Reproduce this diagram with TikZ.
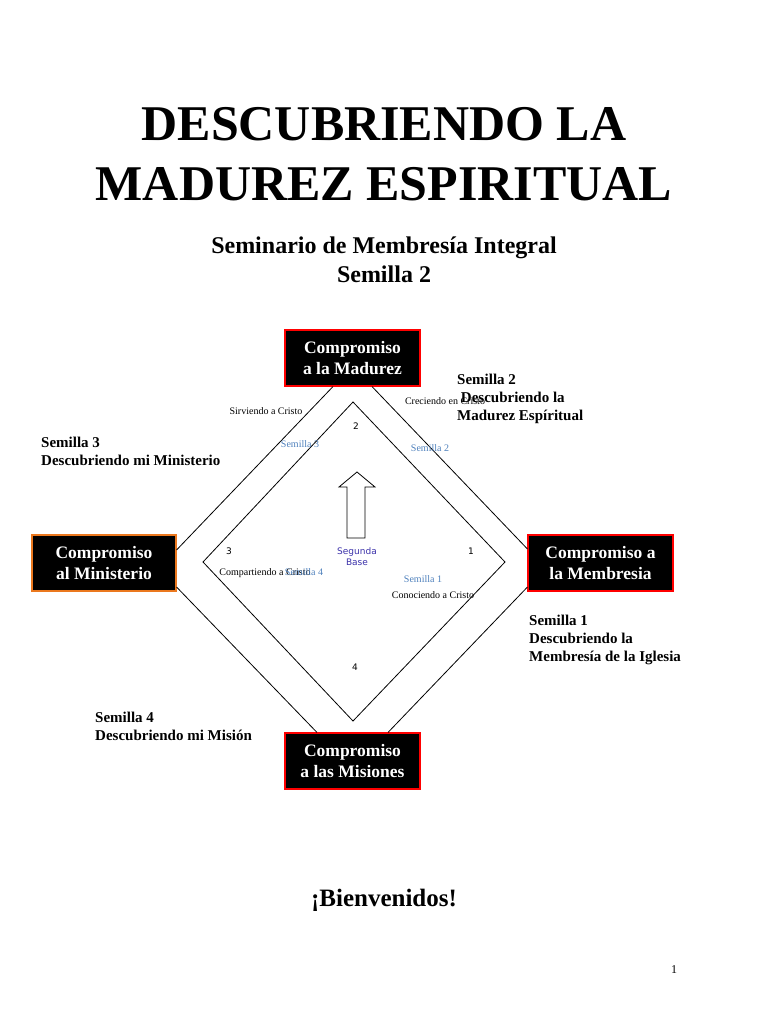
\documentclass[tikz,border=0pt]{standalone}
\usepackage{fontspec}
\setmainfont{Liberation Serif}
\newfontfamily\basefont{DejaVu Sans}
\usetikzlibrary{calc}
\definecolor{tagblue}{RGB}{79,129,189}
\definecolor{baseblue}{RGB}{60,50,170}
\definecolor{edgeorange}{RGB}{235,120,30}

\begin{document}
\begin{tikzpicture}[x=1pt, y=-1pt,
    box/.style={draw=red, line width=1.1pt, fill=black, text=white, align=center, font=\fontsize{17.5}{20.5}\selectfont\bfseries, minimum width=135, minimum height=56, inner sep=2pt},
    seed/.style={anchor=north west, align=left, inner sep=0pt, font=\fontsize{15}{18}\selectfont\bfseries},
    way/.style={inner sep=0pt, font=\fontsize{10}{12}\selectfont},
    tag/.style={inner sep=0pt, text=tagblue, font=\fontsize{10}{12}\selectfont},
    num/.style={inner sep=0pt, font=\basefont\fontsize{9}{11}\selectfont},
    line/.style={line width=0.8pt}
]
\fill[white] (0,0) rectangle (768,1024);
\useasboundingbox (0,0) rectangle (768,1024);

% titles
\node[anchor=base, inner sep=0pt, font=\fontsize{50}{60}\selectfont\bfseries] (title1) at (384,141) {DESCUBRIENDO LA};
\node[anchor=base, inner sep=0pt, font=\fontsize{50}{60}\selectfont\bfseries] (title2) at (384,201) {MADUREZ ESPIRITUAL};
\node[anchor=base, inner sep=0pt, font=\fontsize{24}{29}\selectfont\bfseries] (sub1) at (384,253) {Seminario de Membresía Integral};
\node[anchor=base, inner sep=0pt, font=\fontsize{24}{29}\selectfont\bfseries] (sub2) at (384,282) {Semilla 2};

% boxes
\node[box] (madurez) at (352.5,358) {Compromiso\\a la Madurez};
\node[box, draw=edgeorange, minimum width=144] (ministerio) at (104,563) {Compromiso\\al Ministerio};
\node[box, minimum width=145] (membresia) at (600.5,563) {Compromiso a\\la Membresia};
\node[box] (misiones) at (352.5,761) {Compromiso\\a las Misiones};

% outer diamond
\draw[line] ($(madurez.south)+(-19.5,0)$) -- ($(ministerio.east)+(0,-13)$);
\draw[line] ($(ministerio.east)+(0,24)$) -- ($(misiones.north)+(-35.5,0)$);
\draw[line] ($(madurez.south)+(19.5,0)$) -- ($(membresia.west)+(0,-14)$);
\draw[line] ($(membresia.west)+(0,24)$) -- ($(misiones.north)+(35.5,0)$);

% inner diamond
\coordinate (itop) at (353,402);
\coordinate (iright) at (505,562);
\coordinate (ibot) at (353,721);
\coordinate (ileft) at (203,562);
\draw[line] (itop) -- (iright) -- (ibot) -- (ileft) -- cycle;

\node[num] (n2) at (356,426) {2};
\node[num] (n3) at (229,551) {3};
\node[num] (n1) at (471,551) {1};
\node[num] (n4) at (355,667) {4};

% arrow
\draw[line, fill=white] (347,538) -- (365,538) -- (365,487) -- (375,487) -- (357,472) -- (339,487) -- (347,487) -- cycle;
\node[inner sep=0pt, align=center, text=baseblue, font=\basefont\fontsize{9}{11}\selectfont] (base) at (357,557) {Segunda\\Base};

% small labels
\node[way] (sirv) at (266,411) {Sirviendo a Cristo};
\node[way] (crec) at (445,401) {Creciendo en Cristo};
\node[tag] (t3) at (300,444) {Semilla 3};
\node[tag] (t2) at (430,448) {Semilla 2};
\node[way] (comp) at (265,573) {Compartiendo a Cristo};
\node[tag] (t4) at (304,572) {Semilla 4};
\node[tag] (t1) at (423,579) {Semilla 1};
\node[way] (cono) at (433,595) {Conociendo a Cristo};

% seed labels
\node[seed] (s2) at (457,374) {Semilla 2\\\ Descubriendo la\\Madurez Espíritual};
\node[seed] (s3) at (41,437) {Semilla 3\\Descubriendo mi Ministerio};
\node[seed] (s1) at (529,615) {Semilla 1\\Descubriendo la\\Membresía de la Iglesia};
\node[seed] (s4) at (95,712) {Semilla 4\\Descubriendo mi Misión};

\node[anchor=base, inner sep=0pt, font=\fontsize{25}{30}\selectfont\bfseries] (hola) at (384,906) {¡Bienvenidos!};
\node[inner sep=0pt, font=\fontsize{12}{14}\selectfont] (page) at (674,970) {1};
\end{tikzpicture}
\end{document}
